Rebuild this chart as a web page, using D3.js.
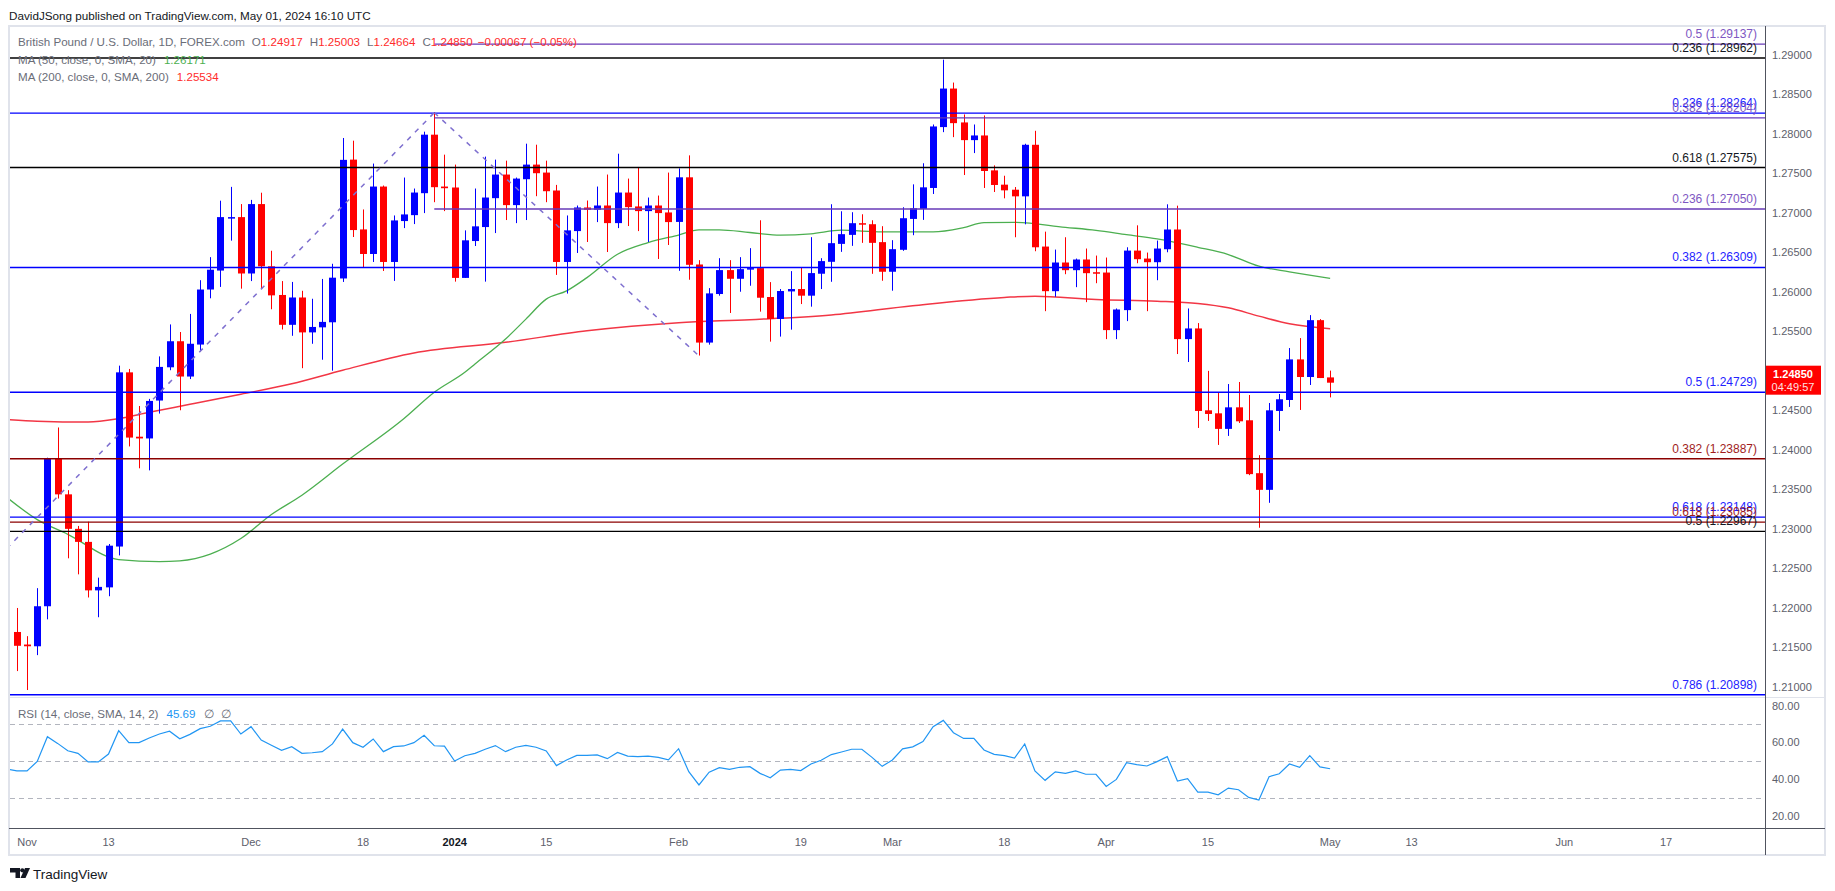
<!DOCTYPE html>
<html>
<head>
<meta charset="utf-8">
<script src="https://cdn.jsdelivr.net/npm/d3@7"></script>
<style>
  body { margin: 0; background: #fff; }
  svg { display: block; font-family: "Liberation Sans", Arial, sans-serif; }
</style>
</head>
<body>
<div id="chart"></div>
<script>
'use strict';

// ---- data ----
const holidays = ["2023-12-25", "2024-01-01"];

// daily candles, 2023-10-31 .. 2024-05-01
const openP = [
  1.21693,1.21534,1.21512,1.22019,1.23894,1.23436,1.22999,1.22834,1.22220,1.22258,
  1.22775,1.24981,1.24166,1.24144,1.24624,1.25045,1.25375,1.24928,1.25333,1.26030,
  1.26270,1.26936,1.26947,1.26233,1.27112,1.26324,1.25961,1.25583,1.25929,1.25487,
  1.25551,1.25615,1.26170,1.27675,1.26791,1.26480,1.27334,1.26379,1.26897,1.26972,
  1.27250,1.27991,1.27334,1.27322,1.26177,1.26644,1.26821,1.27187,1.27486,1.27099,
  1.27427,1.27612,1.27511,1.27284,1.26379,1.26770,1.27069,1.27040,1.27094,1.26871,
  1.27258,1.27082,1.27023,1.27094,1.27006,1.26886,1.27451,1.26347,1.25358,1.25973,
  1.26276,1.26166,1.26288,1.26301,1.25935,1.25657,1.26006,1.26036,1.25952,1.26230,
  1.26381,1.26608,1.26722,1.26870,1.26857,1.26630,1.26255,1.26533,1.26924,1.27051,
  1.27316,1.28087,1.28575,1.28146,1.27922,1.27981,1.27539,1.27358,1.27294,1.27210,
  1.27863,1.26574,1.26009,1.26372,1.26275,1.26410,1.26249,1.26245,1.25516,1.25769,
  1.26523,1.26422,1.26376,1.26540,1.26790,1.25402,1.25537,1.24500,1.24462,1.24265,
  1.24538,1.24374,1.23704,1.23493,1.24492,1.24631,1.25145,1.24922,1.25642,1.24917];
const highP = [
  1.21997,1.21640,1.22248,1.23900,1.24283,1.23489,1.23036,1.23090,1.22381,1.22807,
  1.25066,1.25024,1.24555,1.24645,1.25183,1.25588,1.25492,1.25721,1.26148,1.26440,
  1.27155,1.27330,1.27112,1.27165,1.27256,1.26521,1.26137,1.26126,1.26014,1.25913,
  1.26164,1.26356,1.27949,1.27915,1.27044,1.27625,1.27347,1.26968,1.27448,1.27309,
  1.28029,1.28277,1.27738,1.27612,1.26779,1.27309,1.27713,1.27675,1.27662,1.27448,
  1.27877,1.27864,1.27662,1.27355,1.26968,1.27094,1.27157,1.27334,1.27486,1.27750,
  1.27435,1.27582,1.27195,1.27220,1.27511,1.27564,1.27729,1.26402,1.26048,1.26427,
  1.26402,1.26440,1.26554,1.26907,1.26124,1.26036,1.26263,1.26314,1.26693,1.26427,
  1.27110,1.27021,1.27009,1.26983,1.26907,1.26832,1.26655,1.27072,1.27362,1.27629,
  1.28120,1.28941,1.28651,1.28247,1.28120,1.28234,1.27602,1.27471,1.27328,1.27876,
  1.28040,1.26763,1.26536,1.26692,1.26422,1.26549,1.26460,1.26435,1.25790,1.26565,
  1.26843,1.26498,1.26650,1.27109,1.27092,1.25790,1.25605,1.25000,1.24724,1.24833,
  1.24859,1.24694,1.23932,1.24593,1.24707,1.25289,1.25415,1.25706,1.25655,1.25003];
const lowP = [
  1.21198,1.20958,1.21400,1.21853,1.23383,1.22626,1.22423,1.22130,1.21880,1.22146,
  1.22663,1.24043,1.23766,1.23740,1.24459,1.25008,1.24501,1.24896,1.25247,1.25919,
  1.26063,1.26649,1.26041,1.26137,1.26041,1.25780,1.25524,1.25444,1.25034,1.25343,
  1.25141,1.25002,1.26126,1.26695,1.26307,1.26379,1.26265,1.26139,1.26808,1.26859,
  1.26998,1.27136,1.27023,1.26130,1.26177,1.26581,1.26130,1.26745,1.26910,1.26871,
  1.26910,1.27212,1.27136,1.26215,1.25979,1.26493,1.26632,1.26884,1.26505,1.26808,
  1.26834,1.26770,1.26632,1.26417,1.26594,1.26267,1.26154,1.25194,1.25332,1.25952,
  1.25733,1.26002,1.26078,1.25750,1.25370,1.25434,1.25522,1.25846,1.25813,1.26036,
  1.26128,1.26507,1.26583,1.26621,1.26229,1.26141,1.26015,1.26520,1.26718,1.26912,
  1.27240,1.28023,1.27960,1.27480,1.27758,1.27316,1.27265,1.27185,1.26692,1.26856,
  1.26515,1.25756,1.25938,1.26224,1.26060,1.25870,1.26110,1.25402,1.25402,1.25630,
  1.26363,1.25756,1.26148,1.26502,1.25213,1.25112,1.24277,1.24366,1.24062,1.24176,
  1.24340,1.23679,1.23013,1.23329,1.24239,1.24543,1.24505,1.24821,1.24909,1.24664];
const closeP = [
  1.21518,1.21512,1.22019,1.23894,1.23436,1.22999,1.22834,1.22220,1.22264,1.22786,
  1.24981,1.24155,1.24144,1.24619,1.25050,1.25375,1.24928,1.25343,1.26030,1.26281,
  1.26947,1.26947,1.26233,1.27112,1.26324,1.25956,1.25583,1.25929,1.25487,1.25556,
  1.25620,1.26180,1.27672,1.26783,1.26480,1.27334,1.26379,1.26905,1.26981,1.27258,
  1.27991,1.27326,1.27313,1.26177,1.26653,1.26830,1.27195,1.27486,1.27099,1.27435,
  1.27612,1.27503,1.27275,1.26379,1.26779,1.27069,1.27040,1.27094,1.26871,1.27258,
  1.27073,1.27023,1.27094,1.26998,1.26884,1.27451,1.26343,1.25358,1.25981,1.26276,
  1.26166,1.26288,1.26301,1.25926,1.25657,1.26011,1.26036,1.25952,1.26238,1.26390,
  1.26617,1.26731,1.26870,1.26861,1.26621,1.26255,1.26541,1.26933,1.27059,1.27324,
  1.28095,1.28575,1.28137,1.27922,1.27981,1.27531,1.27354,1.27286,1.27210,1.27863,
  1.26565,1.26009,1.26372,1.26275,1.26410,1.26237,1.26237,1.25516,1.25777,1.26523,
  1.26414,1.26376,1.26549,1.26790,1.25402,1.25537,1.24492,1.24454,1.24265,1.24538,
  1.24361,1.23692,1.23493,1.24500,1.24640,1.25145,1.24922,1.25642,1.24909,1.24850];

// RSI(14), 2023-10-30 .. 2024-05-01
const rsiVals = [
  45.6,44.6,44.5,49.7,63.1,59.5,55.5,54.1,49.4,49.4,
  53.7,66.4,59.9,59.9,62.4,64.6,66.1,62.0,64.4,67.5,
  68.8,71.7,71.7,64.6,68.6,61.3,58.5,55.7,57.7,54.1,
  54.4,55.0,59.2,67.3,59.9,57.4,61.9,55.0,57.7,58.1,
  59.9,63.9,58.2,58.0,49.9,52.8,54.1,56.3,58.3,55.0,
  57.4,58.4,57.4,55.4,47.4,50.5,53.0,53.0,53.2,51.2,
  54.6,52.6,52.3,52.6,51.9,50.5,56.6,44.1,36.9,43.8,
  46.3,45.4,46.5,46.8,43.2,40.8,45.0,45.4,44.7,48.3,
  50.3,53.4,54.8,56.3,56.3,51.9,47.0,50.5,56.5,57.6,
  60.5,68.6,72.0,65.3,62.2,62.2,55.9,53.5,52.8,51.5,
  59.2,44.5,39.4,44.0,43.2,44.5,42.7,42.7,36.1,39.9,
  49.0,47.9,47.2,49.6,52.3,39.0,40.3,33.0,33.0,31.5,
  35.2,34.3,30.1,28.7,41.4,43.0,48.3,46.5,52.8,46.7,45.69];

// moving averages, read at sample dates
const ma50Dates = ["2023-10-30","2023-11-02","2023-11-07","2023-11-14","2023-11-20","2023-11-22","2023-11-27",
  "2023-11-30","2023-12-05","2023-12-08","2023-12-14","2023-12-22","2023-12-28","2024-01-03","2024-01-04",
  "2024-01-09","2024-01-11","2024-01-15","2024-01-17","2024-01-19","2024-01-24","2024-01-29","2024-02-01",
  "2024-02-05","2024-02-07","2024-02-12","2024-02-15","2024-02-20","2024-02-23","2024-02-29","2024-03-07",
  "2024-03-12","2024-03-14","2024-03-19","2024-03-26","2024-03-29","2024-04-03","2024-04-08","2024-04-12",
  "2024-04-17","2024-04-22","2024-04-25","2024-05-01"];
const ma50Vals = [1.2340,1.23116,1.2293,1.2261,1.22584,1.22594,1.22679,
  1.22876,1.2318,1.23425,1.23819,1.24393,1.24729,1.24982,1.25087,
  1.25403,1.25655,1.25908,1.26013,1.26181,1.26476,1.26623,1.26720,
  1.26785,1.26785,1.26752,1.26718,1.26735,1.26781,1.2676,1.2676,
  1.26815,1.26878,1.26881,1.26818,1.2678,1.26725,1.26671,1.26565,
  1.26473,1.26325,1.26254,1.26171];
const ma200Dates = ["2023-10-30","2023-11-02","2023-11-09","2023-11-14","2023-11-17","2023-11-23","2023-11-30",
  "2023-12-07","2023-12-14","2023-12-26","2024-01-09","2024-01-19","2024-02-01","2024-02-12","2024-02-22",
  "2024-03-05","2024-03-18","2024-03-21","2024-03-29","2024-04-08","2024-04-12","2024-04-17","2024-04-22",
  "2024-04-25","2024-05-01"];
const ma200Vals = [1.24384,1.24363,1.24352,1.24395,1.24475,1.24576,1.24704,
  1.24837,1.25008,1.25226,1.25361,1.25508,1.25610,1.25648,1.25707,
  1.25825,1.25930,1.25946,1.25904,1.25883,1.25853,1.25798,1.25693,
  1.25596,1.25534];

// fibonacci levels drawn on the chart
const fibRatios = ["0.5","0.236","0.236","0.382","0.618","0.236","0.382","0.5","0.382","0.618","0.618","0.5","0.786"];
const fibPrices = [1.29137,1.28962,1.28264,1.28204,1.27575,1.27050,1.26309,1.24729,1.23887,1.23148,1.23085,1.22967,1.20898];
const fibTool = ["purple","black","blue","purple","black","purple","blue","blue","red","blue","red","black","blue"];
const fibFrom = ["2023-12-28","2023-10-30","2023-10-30","2023-12-28","2023-10-30","2023-12-28","2023-10-30",
  "2023-10-30","2023-10-30","2023-10-30","2023-10-30","2023-10-30","2023-10-30"];

// dashed trend lines [date, price] -> [date, price]
const trendStart = [["2023-10-30", 1.2275], ["2023-12-28", 1.2827]];
const trendEnd = [["2023-12-28", 1.2827], ["2024-02-05", 1.2519]];

const priceTicks = [1.21,1.215,1.22,1.225,1.23,1.235,1.24,1.245,1.25,1.255,1.26,1.265,1.27,1.275,1.28,1.285,1.29];
const rsiTicks = [20, 40, 60, 80];
const rsiBands = [30, 50, 70];
const timeTickDates = ["2023-11-01","2023-11-13","2023-12-01","2023-12-18","2024-01-02","2024-01-15","2024-02-01",
  "2024-02-19","2024-03-01","2024-03-18","2024-04-01","2024-04-15","2024-05-01","2024-05-13","2024-06-03","2024-06-17"];
const timeTickLabels = ["Nov","13","Dec","18","2024","15","Feb","19","Mar","18","Apr","15","May","13","Jun","17"];

// ---- calendar of trading days ----
const fmt = d3.timeFormat("%Y-%m-%d");
const parse = d3.timeParse("%Y-%m-%d");
function tradingDays(from, to) {
  return d3.timeDay.range(parse(from), d3.timeDay.offset(parse(to), 1))
    .filter((d) => d.getDay() !== 0 && d.getDay() !== 6)
    .map(fmt)
    .filter((s) => holidays.indexOf(s) < 0);
}
const calendar = tradingDays("2023-10-30", "2024-07-01");
const candleDates = tradingDays("2023-10-31", "2024-05-01");
const rsiDates = tradingDays("2023-10-30", "2024-05-01");

const candles = candleDates.map((d, i) => ({
  date: d, open: openP[i], high: highP[i], low: lowP[i], close: closeP[i]
}));

// ---- layout ----
const msm = { width: 1835, height: 891 };
const pane = { left: 10, right: 1765, top: 26, bottom: 697 };
const rsiPane = { top: 697, bottom: 828 };
const frame = { left: 9, right: 1825, bottom: 855 };

const colors = {
  up: "#0000ff", down: "#ff0000",
  blue: "#0000ff", purple: "#673ab7", black: "#000000", red: "#8b0000",
  ma50: "#4caf50", ma200: "#f23645", rsi: "#2196f3",
  text: "#131722", axisText: "#5d606b", legend: "#6a6d78", valueRed: "#ff2b2b"
};
const fibLabelColors = { blue: "#2323ff", purple: "#7e57c2", black: "#131722", red: "#a11d1d" };

const x = d3.scalePoint().domain(calendar).range([6.7, 1767.9]);
const y = d3.scaleLinear().domain([1.21, 1.29]).range([686.7, 55]);
const yRsi = d3.scaleLinear().domain([20, 80]).range([816, 705.7]);

const svg = d3.select('#chart').append('svg')
  .attr('width', msm.width)
  .attr('height', msm.height);

const defs = svg.append('defs');
defs.append('clipPath').attr('id', 'mainClip').append('rect')
  .attr('x', pane.left).attr('y', pane.top)
  .attr('width', pane.right - pane.left).attr('height', pane.bottom - pane.top);
defs.append('clipPath').attr('id', 'rsiClip').append('rect')
  .attr('x', pane.left).attr('y', rsiPane.top)
  .attr('width', pane.right - pane.left).attr('height', rsiPane.bottom - rsiPane.top);

// header
svg.append('text')
  .attr('x', 9).attr('y', 19.5)
  .style('font-size', '11.7px').attr('fill', colors.text)
  .text('DavidJSong published on TradingView.com, May 01, 2024 16:10 UTC');

// frame and separators
svg.append('rect')
  .attr('x', frame.left).attr('y', pane.top)
  .attr('width', frame.right - frame.left).attr('height', frame.bottom - pane.top)
  .attr('fill', 'none').attr('stroke', '#e0e3eb').attr('stroke-width', 2);
svg.append('line')
  .attr('x1', frame.left).attr('x2', frame.right)
  .attr('y1', rsiPane.top + 0.5).attr('y2', rsiPane.top + 0.5)
  .attr('stroke', '#e0e3eb').attr('stroke-width', 1);
svg.append('line')
  .attr('x1', frame.left).attr('x2', frame.right)
  .attr('y1', rsiPane.bottom + 0.5).attr('y2', rsiPane.bottom + 0.5)
  .attr('stroke', '#50535e').attr('stroke-width', 1);
svg.append('line')
  .attr('x1', pane.right + 0.5).attr('x2', pane.right + 0.5)
  .attr('y1', pane.top).attr('y2', frame.bottom)
  .attr('stroke', '#50535e').attr('stroke-width', 1);

// price axis labels
svg.append('g').selectAll('text')
  .data(priceTicks)
  .enter()
  .append('text')
    .attr('x', 1772)
    .attr('y', (d) => y(d) + 4)
    .style('font-size', '11px')
    .attr('fill', colors.axisText)
    .text((d) => d3.format('.5f')(d));

// rsi axis labels
svg.append('g').selectAll('text')
  .data(rsiTicks)
  .enter()
  .append('text')
    .attr('x', 1772)
    .attr('y', (d) => yRsi(d) + 4)
    .style('font-size', '11px')
    .attr('fill', colors.axisText)
    .text((d) => d3.format('.2f')(d));

// time axis labels
svg.append('g').selectAll('text')
  .data(timeTickDates)
  .enter()
  .append('text')
    .attr('x', (d) => x(d))
    .attr('y', 845.5)
    .attr('text-anchor', 'middle')
    .style('font-size', '11px')
    .style('font-weight', (d, i) => timeTickLabels[i] === '2024' ? 'bold' : 'normal')
    .attr('fill', (d, i) => timeTickLabels[i] === '2024' ? colors.text : colors.axisText)
    .text((d, i) => timeTickLabels[i]);

// ---- main pane ----
const main = svg.append('g').attr('clip-path', 'url(#mainClip)');

// legend (drawn first so the fib lines cross it, as in the snapshot)
const leg1 = svg.append('text').attr('x', 18).attr('y', 46).style('font-size', '11.6px');
leg1.append('tspan').attr('fill', colors.legend).text('British Pound / U.S. Dollar, 1D, FOREX.com');
[['O', '1.24917'], ['H', '1.25003'], ['L', '1.24664'], ['C', '1.24850']].forEach((p) => {
  leg1.append('tspan').attr('dx', 7).attr('fill', colors.legend).text(p[0]);
  leg1.append('tspan').attr('fill', colors.valueRed).text(p[1]);
});
leg1.append('tspan').attr('dx', 5).attr('fill', colors.valueRed).text('\u22120.00067 (\u22120.05%)');

const leg2 = svg.append('text').attr('x', 18).attr('y', 63.5).style('font-size', '11.6px');
leg2.append('tspan').attr('fill', colors.legend).text('MA (50, close, 0, SMA, 20)');
leg2.append('tspan').attr('dx', 8).attr('fill', colors.ma50).text('1.26171');

const leg3 = svg.append('text').attr('x', 18).attr('y', 80.5).style('font-size', '11.6px');
leg3.append('tspan').attr('fill', colors.legend).text('MA (200, close, 0, SMA, 200)');
leg3.append('tspan').attr('dx', 8).attr('fill', colors.valueRed).text('1.25534');

// moving averages
const maLine = d3.line()
  .x((d) => x(d[0]))
  .y((d) => y(d[1]))
  .curve(d3.curveMonotoneX);
main.append('path')
  .datum(ma200Dates.map((d, i) => [d, ma200Vals[i]]))
  .attr('fill', 'none').attr('stroke', colors.ma200).attr('stroke-width', 1.5)
  .attr('d', maLine);
main.append('path')
  .datum(ma50Dates.map((d, i) => [d, ma50Vals[i]]))
  .attr('fill', 'none').attr('stroke', colors.ma50).attr('stroke-width', 1.3)
  .attr('d', maLine);

// candles
const cg = main.append('g');
const cx = (d) => Math.round(x(d.date));
const col = (d) => d.close >= d.open ? colors.up : colors.down;
cg.selectAll('.wick')
  .data(candles)
  .enter()
  .append('rect')
    .attr('x', (d) => cx(d))
    .attr('y', (d) => y(d.high))
    .attr('width', 1)
    .attr('height', (d) => Math.max(1, y(d.low) - y(d.high)))
    .attr('fill', col);
cg.selectAll('.body')
  .data(candles)
  .enter()
  .append('rect')
    .attr('x', (d) => cx(d) - 3)
    .attr('y', (d) => y(Math.max(d.open, d.close)))
    .attr('width', 7)
    .attr('height', (d) => Math.max(1.5, Math.abs(y(d.open) - y(d.close))))
    .attr('fill', col);

// fib levels
fibPrices.forEach((p, i) => {
  main.append('line')
    .attr('x1', x(fibFrom[i])).attr('x2', pane.right)
    .attr('y1', y(p)).attr('y2', y(p))
    .attr('stroke', colors[fibTool[i]]).attr('stroke-width', 1.3);
  svg.append('text')
    .attr('x', 1757).attr('y', y(p) - 6)
    .attr('text-anchor', 'end')
    .style('font-size', '12px')
    .attr('fill', fibLabelColors[fibTool[i]])
    .text(fibRatios[i] + ' (' + d3.format('.5f')(p) + ')');
});

// dashed trend lines
trendStart.forEach((s, i) => {
  main.append('line')
    .attr('x1', x(s[0])).attr('y1', y(s[1]))
    .attr('x2', x(trendEnd[i][0])).attr('y2', y(trendEnd[i][1]))
    .attr('stroke', '#7e6fcf').attr('stroke-width', 1.5)
    .attr('stroke-dasharray', '5,6');
});

// last price box
const lastClose = closeP[closeP.length - 1];
const box = svg.append('g');
box.append('rect')
  .attr('x', pane.right + 1).attr('y', y(lastClose) - 17)
  .attr('width', 55).attr('height', 29)
  .attr('fill', '#ff0000');
box.append('text')
  .attr('x', pane.right + 28).attr('y', y(lastClose) - 5)
  .attr('text-anchor', 'middle')
  .style('font-size', '11px').style('font-weight', 'bold')
  .attr('fill', '#fff')
  .text(d3.format('.5f')(lastClose));
box.append('text')
  .attr('x', pane.right + 28).attr('y', y(lastClose) + 8)
  .attr('text-anchor', 'middle')
  .style('font-size', '11px')
  .attr('fill', '#fde0e0')
  .text('04:49:57');

// ---- RSI pane ----
const rsiG = svg.append('g').attr('clip-path', 'url(#rsiClip)');
rsiG.selectAll('.band')
  .data(rsiBands)
  .enter()
  .append('line')
    .attr('x1', pane.left).attr('x2', pane.right)
    .attr('y1', (d) => Math.round(yRsi(d)) + 0.5)
    .attr('y2', (d) => Math.round(yRsi(d)) + 0.5)
    .attr('stroke', '#b2b5be').attr('stroke-width', 1)
    .attr('stroke-dasharray', '5,4');
rsiG.append('path')
  .datum(rsiDates.map((d, i) => [d, rsiVals[i]]))
  .attr('fill', 'none').attr('stroke', colors.rsi).attr('stroke-width', 1.2)
  .attr('d', d3.line().x((d) => x(d[0])).y((d) => yRsi(d[1])));

const legR = svg.append('text').attr('x', 18).attr('y', 717.5).style('font-size', '11.6px');
legR.append('tspan').attr('fill', colors.legend).text('RSI (14, close, SMA, 14, 2)');
legR.append('tspan').attr('dx', 8).attr('fill', colors.rsi).text(rsiVals[rsiVals.length - 1].toFixed(2));
legR.append('tspan').attr('dx', 9).attr('fill', colors.legend).text('\u2205');
legR.append('tspan').attr('dx', 7).attr('fill', colors.legend).text('\u2205');

// ---- TradingView logo ----
const logo = svg.append('g').attr('fill', colors.text);
logo.append('path').attr('d', 'M10,868 h10 v10 h-4.5 v-5.5 h-5.5 z');
logo.append('circle').attr('cx', 22.3).attr('cy', 870.3).attr('r', 2.1);
logo.append('path').attr('d', 'M25,868 h5 l-4.5,10 h-5 z');
svg.append('text')
  .attr('x', 33).attr('y', 878.5)
  .style('font-size', '13.5px')
  .attr('fill', colors.text)
  .text('TradingView');
</script>
</body>
</html>
